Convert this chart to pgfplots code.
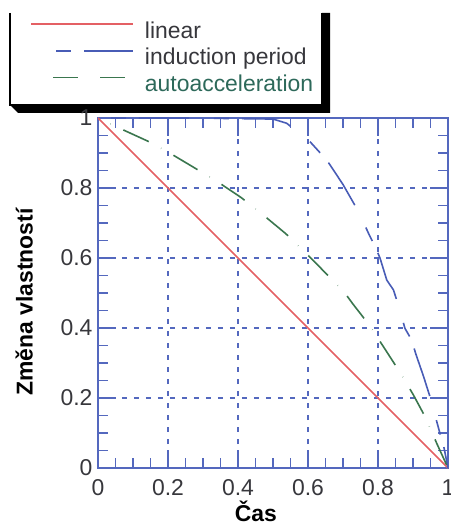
\documentclass[border=0pt]{standalone}
\usepackage{pgfplots}
\pgfplotsset{compat=1.18}
\usepackage{fontspec}
\setmainfont{Liberation Sans}
\definecolor{axblue}{RGB}{84,104,190}
\definecolor{cred}{RGB}{228,96,100}
\definecolor{cblue}{RGB}{72,92,182}
\definecolor{cgreen}{RGB}{58,118,78}
\definecolor{tickgray}{RGB}{55,55,60}
\definecolor{legteal}{RGB}{45,105,90}
\begin{document}
\begin{tikzpicture}
\path[use as bounding box] (-98bp,-59bp) rectangle (353bp,468bp);
\fill[black] (-88bp,363bp) -- (-80bp,355bp) -- (232bp,355bp) -- (232bp,455bp) -- (224bp,455bp) -- cycle;
\fill[white] (-88bp,363bp) rectangle (224bp,455bp);
\draw[black, line width=2.5bp] (-88bp,455bp) -- (-88bp,363bp) -- (224bp,363bp) -- (224bp,455bp);
\begin{axis}[
  at={(0,0)}, anchor=south west,
  scale only axis, width=350bp, height=350bp,
  xmin=0, xmax=1, ymin=0, ymax=1,
  xtick={0,0.2,0.4,0.6,0.8,1}, ytick={0,0.2,0.4,0.6,0.8,1},
  minor tick num=3,
  tick align=inside,
  major tick length=18bp, minor tick length=10bp,
  tick style={axblue, line width=1.5bp},
  axis line style={axblue, line width=2.5bp},
  grid=major,
  major grid style={axblue, line width=1.5bp, dash pattern=on 5bp off 7bp},
  /pgf/number format/assume math mode=true,
  tick label style={font=\fontsize{23}{27}\selectfont, text=tickgray},
  xticklabel style={yshift=-8bp},
  yticklabel style={xshift=-2bp},
  xlabel={Čas}, ylabel={Změna vlastností},
  label style={font=\bfseries\fontsize{23}{27}\selectfont, text=black},
  xlabel style={at={(axis description cs:0.451,-0.124)}, anchor=center},
  ylabel style={at={(axis description cs:-0.211,0.474)}, anchor=center},
  legend cell align=left,
  legend image code/.code={\draw[#1] (0bp,8bp) -- (102bp,8bp);},
  legend style={at={(axis description cs:-0.1943,1.277)}, anchor=north west,
    draw=none, fill=none, inner sep=0pt, row sep=4.6bp,
    nodes={inner sep=0pt, text height=17bp, text depth=5bp, font=\fontsize{23}{27}\selectfont, text=tickgray},
    /tikz/every odd column/.append style={column sep=11bp}},
]
\addplot[cred, line width=1.6bp, forget plot] coordinates {(0,1) (1,0)};
\addplot[cblue, line width=1.6bp, dash pattern=on 15bp off 13bp on 50bp off 25bp, dash phase=90bp, forget plot] coordinates {
(0,1) (0.25,1) (0.5,0.997) (0.539,0.985) (0.606,0.932) (0.636,0.899) (0.661,0.869) (0.70,0.81) (0.744,0.733) (0.775,0.666) (0.794,0.628) (0.806,0.599) (0.825,0.537) (0.844,0.509) (0.858,0.466) (0.877,0.399) (0.896,0.366) (0.908,0.326) (0.93,0.262) (0.949,0.202) (0.968,0.132) (0.977,0.099) (0.987,0.066) (1,0)};
\addplot[cgreen, line width=1.6bp, dash pattern=on 28bp off 14bp on 0.2bp off 14bp, dash phase=28.2bp, forget plot] coordinates {
(0,1) (0.072,0.966) (0.142,0.934) (0.203,0.901) (0.27,0.861) (0.337,0.821) (0.41,0.772) (0.472,0.723) (0.537,0.669) (0.604,0.604) (0.672,0.535) (0.706,0.499) (0.728,0.469) (0.777,0.406) (0.823,0.335) (0.865,0.27) (0.901,0.209) (0.937,0.142) (0.968,0.07) (1,0)};
\addlegendimage{cred, line width=1.8bp}
\addlegendentry{linear}
\addlegendimage{cblue, line width=1.6bp, dash pattern=on 15bp off 13bp on 50bp off 25bp, dash phase=78bp}
\addlegendentry{induction period}
\addlegendimage{cgreen, line width=1.6bp, dash pattern=on 25bp off 22bp, dash phase=25bp}
\addlegendentry[text=legteal]{autoacceleration}
\end{axis}
\end{tikzpicture}
\end{document}
